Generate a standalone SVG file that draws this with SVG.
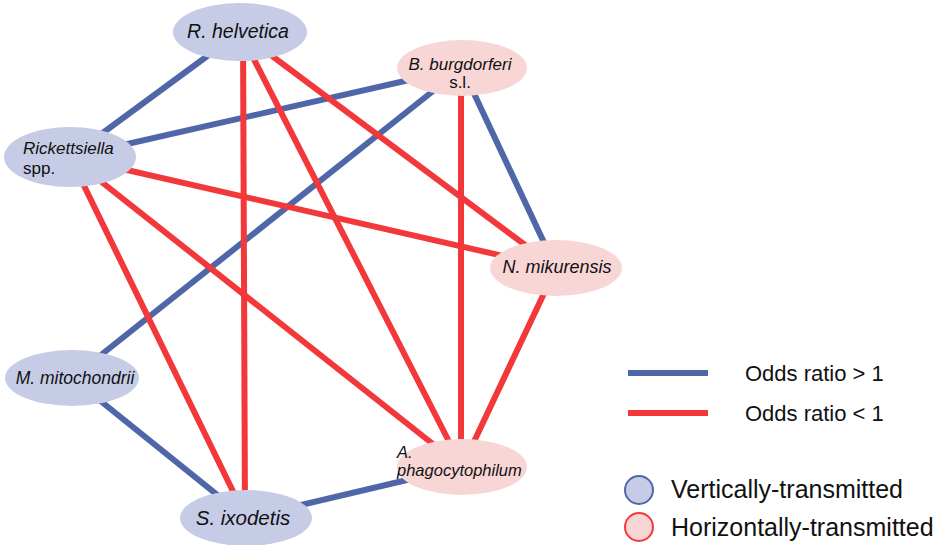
<svg xmlns="http://www.w3.org/2000/svg" width="939" height="545" viewBox="0 0 939 545">
<style>
.b{stroke:#4f66a8;stroke-width:6;fill:none}
.r{stroke:#f2383a;stroke-width:6;fill:none}
.vn{fill:#c6cce6;stroke:none}
.hn{fill:#f9d6d6;stroke:none}
text{font-family:"Liberation Sans",Arial,sans-serif;fill:#111}
.i{font-style:italic}
.lg{font-size:25px}
.od{font-size:22px}
</style>
<rect width="939" height="545" fill="#fff"/>
<g id="connectors">
<line class="b" x1="240" y1="32" x2="70" y2="157"/>
<line class="b" x1="70" y1="157" x2="462" y2="68"/>
<line class="b" x1="462" y1="68" x2="72" y2="378"/>
<line class="b" x1="462" y1="68" x2="556" y2="268"/>
<line class="b" x1="72" y1="378" x2="246" y2="518"/>
<line class="b" x1="246" y1="518" x2="462" y2="467"/>
<line class="r" x1="243" y1="32" x2="245" y2="518"/>
<line class="r" x1="240" y1="32" x2="462" y2="467"/>
<line class="r" x1="240" y1="32" x2="556" y2="268"/>
<line class="r" x1="70" y1="157" x2="556" y2="268"/>
<line class="r" x1="70" y1="157" x2="462" y2="467"/>
<line class="r" x1="70" y1="157" x2="246" y2="518"/>
<line class="r" x1="461" y1="68" x2="461" y2="467"/>
<line class="r" x1="556" y1="268" x2="462" y2="467"/>
</g>
<g id="n-rhelvetica">
<ellipse class="vn" cx="240" cy="32" rx="67" ry="29"/>
<text class="i" x="238" y="38" font-size="19.5" text-anchor="middle">R. helvetica</text>
</g>
<g id="n-bburgdorferi">
<ellipse class="hn" cx="462" cy="68" rx="65" ry="28"/>
<text class="i" x="460" y="70" font-size="17" text-anchor="middle">B. burgdorferi</text>
<text x="460" y="88" font-size="17" text-anchor="middle">s.l.</text>
</g>
<g id="n-rickettsiella">
<ellipse class="vn" cx="70" cy="157" rx="66" ry="30"/>
<text class="i" x="23" y="154" font-size="17">Rickettsiella</text>
<text x="23" y="174" font-size="17">spp.</text>
</g>
<g id="n-nmikurensis">
<ellipse class="hn" cx="556" cy="268" rx="66" ry="28"/>
<text class="i" x="557" y="273" font-size="18" text-anchor="middle">N. mikurensis</text>
</g>
<g id="n-mmitochondrii">
<ellipse class="vn" cx="72" cy="378" rx="67" ry="28"/>
<text class="i" x="75" y="384" font-size="17.5" text-anchor="middle">M. mitochondrii</text>
</g>
<g id="n-aphagocytophilum">
<ellipse class="hn" cx="462" cy="467" rx="65" ry="28"/>
<text class="i" x="397" y="458" font-size="16.5">A.</text>
<text class="i" x="397" y="476" font-size="16.5">phagocytophilum</text>
</g>
<g id="n-sixodetis">
<ellipse class="vn" cx="246" cy="518" rx="66" ry="28"/>
<text class="i" x="243" y="525" font-size="20.5" text-anchor="middle">S. ixodetis</text>
</g>
<g id="legend">
<line class="b" x1="628" y1="373" x2="708" y2="373"/>
<line class="r" x1="628" y1="413" x2="708" y2="413"/>
<text class="od" x="745" y="381">Odds ratio &gt; 1</text>
<text class="od" x="745" y="421">Odds ratio &lt; 1</text>
<circle cx="639" cy="490" r="14" fill="#c6cce6" stroke="#4f66a8" stroke-width="2"/>
<circle cx="639" cy="527" r="14" fill="#f9d6d6" stroke="#f2383a" stroke-width="2"/>
<text class="lg" x="671" y="498">Vertically-transmitted</text>
<text class="lg" x="671" y="536">Horizontally-transmitted</text>
</g>
</svg>
